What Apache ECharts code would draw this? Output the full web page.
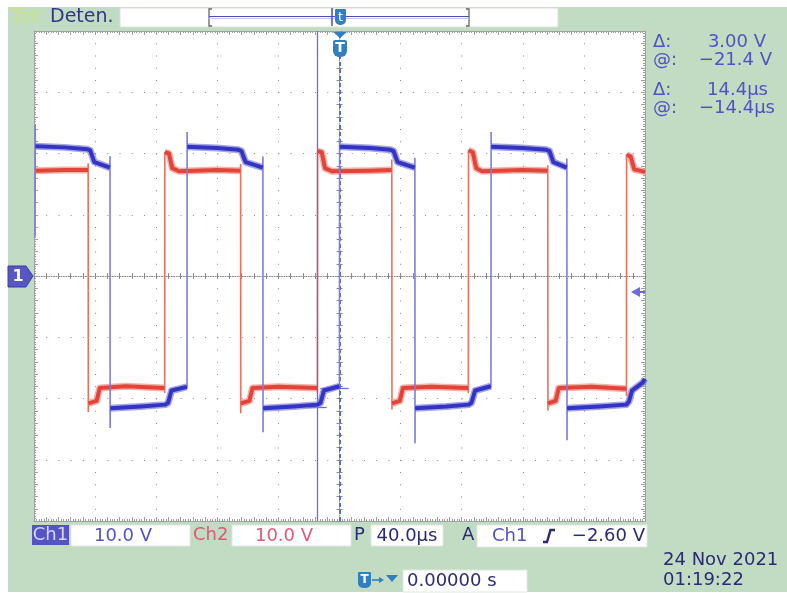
<!DOCTYPE html>
<html><head><meta charset="utf-8">
<script src="https://cdn.jsdelivr.net/npm/echarts@6/dist/echarts.min.js"></script>
<style>
html,body{margin:0;padding:0;background:#fff;}
#wrap{position:relative;width:787px;height:593px;overflow:hidden;}
#bg{position:absolute;left:8px;top:7px;width:779px;height:585px;background:#c1dcc2;}
#c{position:absolute;left:0;top:0;width:787px;height:593px;}
</style>
</head><body>
<div id="wrap"><div id="bg"></div><div id="c"></div></div>
<script>
// ---- Data (time in µs, voltage in V) ----
const timeRange = [-200, 200];      // 40 µs/div, 10 div
const voltRange = [-40, 40];        // 10 V/div, 8 div
const timeDiv = 40, voltDiv = 10;

// Ch1 (blue) trace breakpoints [t, V]
const ch1Wave = [
  [-199.3, 6.4], [-199.2, 24.7], [-199.1, 21.2],
  [-180, 21.0], [-165, 20.7], [-163.2, 20.5], [-160.5, 18.6], [-150.3, 17.7],
  [-150.25, 19.6], [-150.15, -24.8], [-150.1, -21.6],
  [-130, -21.3], [-114, -21.0], [-112.2, -20.7], [-110, -18.7], [-99.9, -18.1],
  [-99.85, -18.3], [-99.75, 23.5], [-99.7, 21.1],
  [-80, 20.9], [-66, 20.6], [-64.2, 20.4], [-61.5, 18.6], [-50.2, 17.7],
  [-50.15, 19.5], [-50.05, -25.5], [-50.0, -21.6],
  [-30, -21.3], [-14.2, -21.0], [-12.4, -20.7], [-10.2, -18.7], [-0.1, -18.0],
  [-0.05, -18.2], [0.05, 22.5], [0.1, 21.1],
  [20, 20.9], [33.5, 20.6], [35.4, 20.4], [38, 18.6], [49.3, 17.7],
  [49.35, 19.3], [49.45, -27.3], [49.5, -21.6],
  [70, -21.3], [84.6, -21.0], [86.4, -20.7], [88.8, -18.7], [99.1, -18.0],
  [99.15, -18.2], [99.25, 23.5], [99.3, 21.1],
  [120, 20.9], [135.5, 20.6], [137.5, 20.4], [140, 18.6], [148.8, 17.7],
  [148.85, 19.2], [148.95, -26.8], [149.0, -21.6],
  [170, -21.3], [187.8, -21.0], [189.5, -20.5], [191.5, -18.7], [198.5, -17.4], [200, -16.8]
];

// Ch2 (red) trace breakpoints [t, V]
const ch2Wave = [
  [-199.3, 17.2], [-180, 17.3], [-164.6, 17.3],
  [-164.55, 18.4], [-164.45, -22.2], [-164.4, -20.8],
  [-159, -20.4], [-157, -18.3], [-140, -18.0], [-114.5, -18.3],
  [-114.45, -19.1], [-114.35, 20.3], [-114.3, 20.2],
  [-111.6, 20.0], [-109.5, 17.6], [-105, 17.1], [-80, 17.3], [-64.8, 17.2],
  [-64.75, 18.3], [-64.65, -22.4], [-64.6, -20.8],
  [-59, -20.4], [-57, -18.3], [-40, -18.1], [-14.5, -18.3],
  [-14.45, -19.1], [-14.35, 20.5], [-14.3, 20.4],
  [-11.6, 20.2], [-9.5, 17.6], [-5, 17.1], [20, 17.2], [34.2, 17.3],
  [34.25, 19.0], [34.35, -21.8], [34.4, -20.8],
  [39.5, -20.4], [41.5, -18.3], [60, -18.1], [84.3, -18.3],
  [84.35, -19.1], [84.45, 20.6], [84.5, 20.5],
  [87.3, 20.2], [89.5, 17.6], [93.5, 17.1], [120, 17.3], [136.3, 17.2],
  [136.35, 18.1], [136.45, -22.0], [136.5, -20.8],
  [141.5, -20.4], [143.5, -18.3], [165, -18.1], [187.8, -18.4],
  [187.85, -19.6], [187.95, 19.9], [188.0, 19.8],
  [190.6, 19.5], [193, 17.4], [200, 17.0]
];

const cursorTimes = [-14.4, 0];       // µs
const cursorVolts = [-21.4, -18.4];   // V
const triggerLevel = -2.6;            // V

const cursorReadout = [['Δ:', '3.00 V'], ['@:', '−21.4 V'], ['Δ:', '14.4µs'], ['@:', '−14.4µs']];
const ch1Scale = '10.0 V', ch2Scale = '10.0 V', timeScale = '40.0µs', trigText = '−2.60 V';
const dateText = ['24 Nov 2021', '01:19:22'];
const delayText = '0.00000 s';

// ---- Build ----
function splitTrace(pts) {
  const levels = [], edges = [];
  for (let i = 0; i < pts.length - 1; i++) {
    const a = pts[i], b = pts[i + 1];
    if (b[0] - a[0] <= 0.12) {
      edges.push(a, b, null);
      if (levels.length && levels[levels.length - 1] !== null) levels.push(null);
    } else {
      if (!levels.length || levels[levels.length - 1] === null) levels.push(a);
      levels.push(b);
    }
  }
  return { levels, edges };
}
const c1 = splitTrace(ch1Wave), c2 = splitTrace(ch2Wave);

const FONT = '"DejaVu Sans", Verdana, sans-serif';
const dotGrey = '#8a8a8a', frameGrey = '#a0a0a0';
const blueTxt = '#5252c2', navy = '#2b2b72', pink = '#e0587a', trigBlue = '#2f7fc2';

function axisBase(extra) {
  return Object.assign({ type: 'value', axisLabel: { show: false }, splitLine: { show: false } }, extra);
}
const xAxes = [
  axisBase({ min: timeRange[0], max: timeRange[1], interval: timeDiv,
    axisLine: { show: false, onZero: false }, axisTick: { show: false },
    splitLine: { show: true, lineStyle: { color: dotGrey, width: 1, type: [1, 11.25] } } }),
  axisBase({ position: 'bottom', min: timeRange[0], max: timeRange[1], interval: timeDiv / 5,
    axisLine: { show: true, onZero: false, lineStyle: { color: frameGrey, width: 1 } },
    axisTick: { show: true, inside: true, length: 4, lineStyle: { color: frameGrey } },
    minorTick: { show: true, splitNumber: 5, length: 2, lineStyle: { color: frameGrey } } }),
  axisBase({ position: 'top', min: timeRange[0], max: timeRange[1], interval: timeDiv / 5,
    axisLine: { show: true, onZero: false, lineStyle: { color: frameGrey, width: 1 } },
    axisTick: { show: true, inside: true, length: 4, lineStyle: { color: frameGrey } },
    minorTick: { show: true, splitNumber: 5, length: 2, lineStyle: { color: frameGrey } } }),
  axisBase({ position: 'bottom', min: timeRange[0], max: timeRange[1], interval: timeDiv / 5,
    axisLine: { show: true, onZero: true, onZeroAxisIndex: 0, lineStyle: { color: dotGrey, width: 1, type: [1, 1.45] } },
    axisTick: { show: true, inside: false, length: 3, lineStyle: { color: dotGrey } } }),
  axisBase({ position: 'top', min: timeRange[0], max: timeRange[1], interval: timeDiv / 5,
    axisLine: { show: false, onZero: true, onZeroAxisIndex: 0 },
    axisTick: { show: true, inside: false, length: 3, lineStyle: { color: dotGrey } } })
];
const yAxes = [
  axisBase({ min: voltRange[0], max: voltRange[1], interval: voltDiv,
    axisLine: { show: false, onZero: false }, axisTick: { show: false },
    splitLine: { show: true, lineStyle: { color: dotGrey, width: 1, type: [1, 11.22] } } }),
  axisBase({ position: 'left', min: voltRange[0], max: voltRange[1], interval: voltDiv / 5,
    axisLine: { show: true, onZero: false, lineStyle: { color: frameGrey, width: 1 } },
    axisTick: { show: true, inside: true, length: 4, lineStyle: { color: frameGrey } },
    minorTick: { show: true, splitNumber: 5, length: 2, lineStyle: { color: frameGrey } } }),
  axisBase({ position: 'right', min: voltRange[0], max: voltRange[1], interval: voltDiv / 5,
    axisLine: { show: true, onZero: false, lineStyle: { color: frameGrey, width: 1 } },
    axisTick: { show: true, inside: true, length: 4, lineStyle: { color: frameGrey } },
    minorTick: { show: true, splitNumber: 5, length: 2, lineStyle: { color: frameGrey } } }),
  axisBase({ position: 'left', min: voltRange[0], max: voltRange[1], interval: voltDiv / 5,
    axisLine: { show: true, onZero: true, onZeroAxisIndex: 0, lineStyle: { color: dotGrey, width: 1, type: [1, 1.45] } },
    axisTick: { show: true, inside: false, length: 3, lineStyle: { color: dotGrey } } }),
  axisBase({ position: 'right', min: voltRange[0], max: voltRange[1], interval: voltDiv / 5,
    axisLine: { show: false, onZero: true, onZeroAxisIndex: 0 },
    axisTick: { show: true, inside: false, length: 3, lineStyle: { color: dotGrey } } })
];

function lineSeries(name, data, color, width, z, opacity) {
  return { name, type: 'line', xAxisIndex: 0, yAxisIndex: 0, data, showSymbol: false, symbol: 'none',
    connectNulls: false, silent: true, z, animation: false,
    lineStyle: { color, width, cap: 'butt', join: 'round', opacity: opacity == null ? 1 : opacity } };
}

const cursorColor = '#6b6bd9';
const markSeries = {
  type: 'line', data: [], xAxisIndex: 0, yAxisIndex: 0, z: 1, silent: true,
  markLine: {
    silent: true, symbol: ['none', 'none'], label: { show: false }, animation: false,
    data: [
      { xAxis: cursorTimes[0], lineStyle: { color: cursorColor, width: 1.3, type: 'solid' } },
      { xAxis: cursorTimes[1], lineStyle: { color: '#5a6ad2', width: 2, type: [4, 3] } },
      [{ coord: [cursorTimes[0] - 6, cursorVolts[0]], lineStyle: { color: cursorColor, width: 1.3, type: 'solid' } },
       { coord: [cursorTimes[0] + 6, cursorVolts[0]] }],
      [{ coord: [cursorTimes[1] - 12.5, cursorVolts[1]], lineStyle: { color: cursorColor, width: 1.3, type: 'solid' } },
       { coord: [cursorTimes[1] + 6, cursorVolts[1]] }]
    ]
  }
};

function txtStyle(text, x, y, fill, font, align) {
  return { text, x, y, fill, font, align: align || 'left', textAlign: align || 'left', verticalAlign: 'middle', textVerticalAlign: 'middle' };
}
const T = (text, x, y, fill, size, align, z, bold) => ({
  type: 'text', z: z || 200,
  style: txtStyle(text, x, y, fill, (bold ? 'bold ' : '') + (size || 18) + 'px ' + FONT, align)
});
const R = (x, y, w, h, fill, stroke) => ({ type: 'rect', z: 150, shape: { x, y, width: w, height: h },
  style: { fill, stroke: stroke || null, lineWidth: 1 } });

const graphics = [
  // top bar
  T('Tek', 10, 17.5, '#c9e38c', 19),
  T('Deten.', 50, 17.5, '#34348a', 19),
  R(120, 8, 438, 19, '#ffffff', '#d6e2d6'),
  { type: 'polyline', z: 160, shape: { points: [[212, 9], [209, 9], [209, 26], [212, 26]] }, style: { stroke: '#666', lineWidth: 1.3, fill: null } },
  { type: 'polyline', z: 160, shape: { points: [[466, 9], [469, 9], [469, 26], [466, 26]] }, style: { stroke: '#666', lineWidth: 1.3, fill: null } },
  { type: 'line', z: 160, shape: { x1: 209, y1: 16.5, x2: 469, y2: 16.5 }, style: { stroke: '#4d4db0', lineWidth: 1.2 } },
  { type: 'line', z: 160, shape: { x1: 209, y1: 18.5, x2: 469, y2: 18.5 }, style: { stroke: '#c4c4ec', lineWidth: 1 } },
  { type: 'line', z: 161, shape: { x1: 332, y1: 8, x2: 332, y2: 26 }, style: { stroke: '#4d4db0', lineWidth: 1.5 } },
  { type: 'rect', z: 162, shape: { x: 335, y: 9, width: 11, height: 16, r: [1, 1, 5, 5] }, style: { fill: trigBlue } },
  T('t', 340.5, 17.5, '#ffffff', 13, 'center', 163),
  // trigger position marker on graticule
  { type: 'polygon', z: 170, shape: { points: [[333, 32], [347, 32], [340, 38]] }, style: { fill: trigBlue } },
  { type: 'rect', z: 170, shape: { x: 333, y: 40, width: 14, height: 17, r: [2, 2, 6, 6] }, style: { fill: trigBlue } },
  T('T', 340, 48.5, '#ffffff', 14, 'center', 171, true),
  // Ch1 ground marker
  { type: 'polygon', z: 170, shape: { points: [[8, 266], [26, 266], [33, 276], [26, 287], [8, 287]] }, style: { fill: '#5757c4', stroke: '#3c3ca0', lineWidth: 1 } },
  T('1', 18, 277, '#ffffff', 16, 'center', 171, true),
  // trigger level arrow
  { type: 'polygon', z: 170, shape: { points: [[631, 292], [640, 287], [640, 297]] }, style: { fill: '#6b6bd9' } },
  { type: 'line', z: 170, shape: { x1: 639, y1: 292, x2: 645, y2: 292 }, style: { stroke: '#6b6bd9', lineWidth: 2 } },
  // cursor readouts
  T(cursorReadout[0][0], 653, 42, blueTxt, 18), T(cursorReadout[0][1], 766, 42, blueTxt, 18, 'right'),
  T(cursorReadout[1][0], 653, 60, blueTxt, 18), T(cursorReadout[1][1], 772, 60, blueTxt, 18, 'right'),
  T(cursorReadout[2][0], 653, 90, blueTxt, 18), T(cursorReadout[2][1], 768, 90, blueTxt, 18, 'right'),
  T(cursorReadout[3][0], 653, 108, blueTxt, 18), T(cursorReadout[3][1], 775, 108, blueTxt, 18, 'right'),
  // bottom status line
  R(32, 525, 37, 20, '#5454c4'),
  T('Ch1', 50.5, 535.5, '#d6d6ff', 18, 'center'),
  R(71, 525, 119, 21, '#ffffff', '#dfe8df'),
  T(ch1Scale, 123, 536, blueTxt, 18, 'center'),
  T('Ch2', 193, 535.5, pink, 18),
  R(232, 525, 119, 21, '#ffffff', '#dfe8df'),
  T(ch2Scale, 284, 536, pink, 18, 'center'),
  T('P', 354, 535.5, navy, 18),
  R(371, 525, 72, 21, '#ffffff', '#dfe8df'),
  T(timeScale, 407, 536, navy, 18, 'center'),
  T('A', 462, 535.5, navy, 18),
  R(477, 525, 170, 22, '#ffffff', '#dfe8df'),
  T('Ch1', 492, 536, blueTxt, 18),
  { type: 'polyline', z: 200, shape: { points: [[543, 542], [547, 542], [550.5, 530], [555, 530]] }, style: { stroke: navy, lineWidth: 2.4, fill: null } },
  T(trigText, 645, 536, navy, 18, 'right'),
  T(dateText[0], 663, 560, navy, 18),
  T(dateText[1], 663, 580, navy, 18),
  // delay readout
  { type: 'rect', z: 170, shape: { x: 358, y: 572, width: 13, height: 16, r: [1, 1, 5, 5] }, style: { fill: trigBlue } },
  T('T', 364.5, 580, '#ffffff', 12, 'center', 171, true),
  { type: 'line', z: 170, shape: { x1: 372, y1: 580, x2: 381, y2: 580 }, style: { stroke: trigBlue, lineWidth: 1.6 } },
  { type: 'polygon', z: 170, shape: { points: [[379, 577], [384, 580], [379, 583]] }, style: { fill: trigBlue } },
  { type: 'polygon', z: 170, shape: { points: [[386, 575], [398, 575], [392, 582]] }, style: { fill: trigBlue } },
  R(403, 570, 124, 22, '#ffffff', '#dfe8df'),
  T(delayText, 407, 581, navy, 18)
];

const option = {
  animation: false,
  backgroundColor: 'transparent',
  grid: { left: 34, top: 31, width: 611, height: 490, show: true, backgroundColor: '#ffffff', borderWidth: 0 },
  xAxis: xAxes,
  yAxis: yAxes,
  series: [
    markSeries,
    lineSeries('Ch2 edges', c2.edges, '#ef6f5c', 1.6, 2),
    lineSeries('Ch2 band', c2.levels, '#f08f86', 7, 3, 0.7),
    lineSeries('Ch2', c2.levels, '#e4433a', 4, 4),
    lineSeries('Ch1 edges', c1.edges, '#7d7ddc', 1.6, 5),
    lineSeries('Ch1 band', c1.levels, '#7f7fdc', 7, 6, 0.7),
    lineSeries('Ch1', c1.levels, '#3434c4', 4, 7)
  ],
  graphic: graphics
};
const chart = echarts.init(document.getElementById('c'), null, { renderer: 'canvas' });
chart.setOption(option);
</script>
</body></html>
